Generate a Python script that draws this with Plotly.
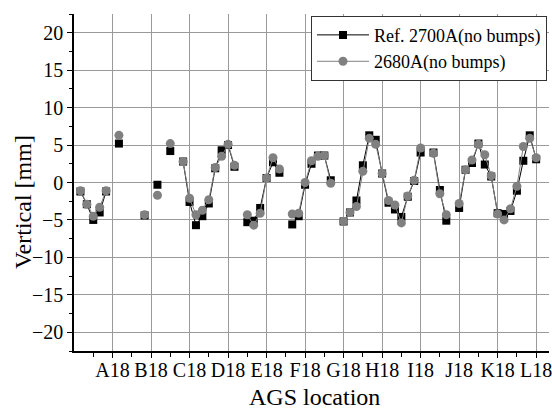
import plotly.graph_objects as go

# BPM index around the ring (6 per superperiod, 72 total)
bpm_index = list(range(1, 73))

# Vertical orbit [mm]; None = no reading at that BPM
ref_2700 = [
    -1.2, -2.9, -5.0, -4.0, -1.2, None,
    5.2, None, None, None, -4.4, None,
    -0.3, None, 4.2, None, 2.8, -2.6,
    -5.7, -4.5, -2.8, 1.9, 4.3, 5.0,
    2.1, None, -5.3, -5.1, -3.4, 0.6,
    2.7, 1.3, None, -5.6, -4.5, -0.3,
    2.5, 3.6, 3.6, 0.3, None, -5.2,
    -4.0, -2.4, 2.3, 6.3, 5.7, 1.2,
    -2.7, -3.6, -4.6, -1.9, 0.2, 4.0,
    None, 4.0, -1.0, -5.1, None, -3.4,
    1.7, 2.6, 5.2, 2.4, 0.8, -4.1,
    -4.2, -3.8, -1.1, 2.9, 6.3, 3.1,
]

run_2680 = [
    -1.1, -2.9, -4.5, -3.3, -1.1, None,
    6.3, None, None, None, -4.3, None,
    -1.7, None, 5.2, None, 2.8, -2.1,
    -4.3, -3.7, -2.3, 2.0, 3.5, 5.1,
    2.3, None, -4.3, -5.7, -4.1, 0.6,
    3.3, 1.8, None, -4.2, -4.1, 0.0,
    2.9, 3.5, 3.6, -0.1, None, -5.2,
    -4.0, -3.2, 1.5, 5.9, 5.1, 1.2,
    -2.4, -3.0, -5.4, -1.8, 0.3, 4.6,
    None, 3.9, -1.5, -4.3, None, -2.8,
    1.7, 3.0, 5.1, 3.7, 0.9, -4.2,
    -5.0, -3.5, -0.5, 4.8, 5.9, 3.3,
]

# Superperiod labels placed at every 6th BPM
sector_labels = ["A18", "B18", "C18", "D18", "E18", "F18",
                 "G18", "H18", "I18", "J18", "K18", "L18"]
sector_pos = [6 * (i + 1) for i in range(len(sector_labels))]
half_sector_pos = [p - 3 for p in sector_pos]

FONT = "'Liberation Serif', 'Times New Roman', Times, serif"
GRID = "#9a9a9a"

fig = go.Figure()
fig.add_trace(go.Scatter(
    x=bpm_index, y=ref_2700, name="Ref. 2700A(no bumps)",
    mode="lines+markers", connectgaps=False,
    line=dict(color="black", width=1),
    marker=dict(symbol="square", size=8, color="black"),
))
fig.add_trace(go.Scatter(
    x=bpm_index, y=run_2680, name="2680A(no bumps)",
    mode="lines+markers", connectgaps=False,
    line=dict(color="#808080", width=1),
    marker=dict(symbol="circle", size=9, color="#808080"),
))

fig.update_layout(
    width=552, height=409,
    margin=dict(l=74, r=0, t=14, b=58),
    paper_bgcolor="white", plot_bgcolor="white",
    font=dict(family=FONT, color="black", size=20),
    showlegend=True,
    legend=dict(
        x=0.9958, xanchor="right", y=0.995, yanchor="top",
        bgcolor="white", bordercolor="#333", borderwidth=1,
        font=dict(family=FONT, size=18, color="black"),
        itemwidth=52, tracegroupgap=0,
    ),
    xaxis=dict(
        range=[0, 74.0],
        tickmode="array", tickvals=sector_pos, ticktext=sector_labels,
        ticks="outside", ticklen=5, tickwidth=1.2, tickcolor="black",
        ticklabeloverflow="allow", ticklabelstandoff=-5,
        showline=True, linecolor="black", linewidth=1.5,
        showgrid=True, gridcolor=GRID, gridwidth=1.2,
        zeroline=False,
        tickfont=dict(family=FONT, size=20, color="black"),
        minor=dict(tickmode="array", tickvals=half_sector_pos,
                   ticks="outside", ticklen=4, tickcolor="black",
                   showgrid=False),
    ),
    yaxis=dict(
        range=[-22.5, 22.5],
        tickmode="linear", tick0=0, dtick=5,
        ticks="outside", ticklen=5, tickwidth=1.2, tickcolor="black",
        showline=True, linecolor="black", linewidth=1.5,
        showgrid=True, gridcolor=GRID, gridwidth=1.2,
        zeroline=False,
        tickfont=dict(family=FONT, size=20, color="black"),
        minor=dict(tick0=0, dtick=2.5, ticks="outside", ticklen=3,
                   tickcolor="black", showgrid=False),
    ),
    annotations=[
        dict(text="AGS location", xref="paper", yref="paper",
             x=(316.5 - 74) / 478, y=(351.5 - 398) / 337.5,
             xanchor="center", yanchor="middle", showarrow=False,
             font=dict(family=FONT, size=24, color="black")),
        dict(text="Vertical [mm]", xref="paper", yref="paper",
             x=(22 - 74) / 478, y=(351.5 - 202) / 337.5,
             xanchor="center", yanchor="middle", showarrow=False,
             textangle=-90,
             font=dict(family=FONT, size=24, color="black")),
    ],
)

fig.write_html("out.html")
